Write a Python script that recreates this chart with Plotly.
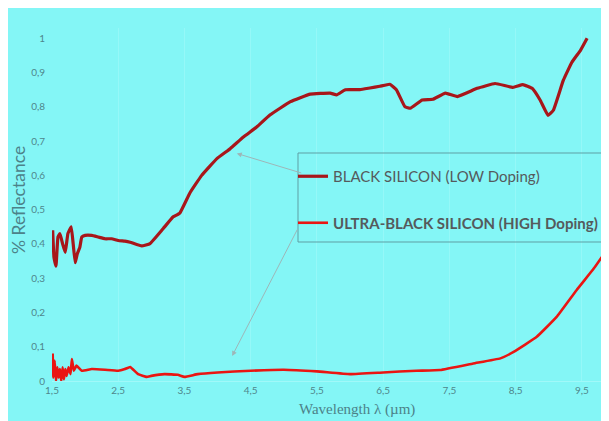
import plotly.graph_objects as go

# ---- data ----
black_x = [1.51, 1.53, 1.56, 1.59, 1.62, 1.66, 1.70, 1.74, 1.79, 1.82, 1.85, 1.88, 1.92, 1.95,
           2.0, 2.1, 2.2, 2.3, 2.4, 2.5, 2.6, 2.68, 2.855, 2.98, 3.18, 3.33, 3.43, 3.58, 3.76,
           3.99, 4.19, 4.39, 4.59, 4.79, 5.1, 5.4, 5.7, 5.8, 5.93, 6.15, 6.3, 6.45,
           6.6, 6.7, 6.83, 6.91, 7.09, 7.25, 7.44, 7.62, 7.92, 8.19, 8.46, 8.61, 8.75, 8.87,
           8.99, 9.07, 9.22, 9.35, 9.48, 9.58]
black_y = [0.44, 0.36, 0.335, 0.42, 0.43, 0.40, 0.375, 0.43, 0.45, 0.40, 0.345, 0.37, 0.39, 0.42,
           0.425, 0.425, 0.42, 0.415, 0.415, 0.41, 0.408, 0.405, 0.394, 0.401, 0.445, 0.479, 0.49, 0.548, 0.60,
           0.649, 0.678, 0.712, 0.741, 0.776, 0.815, 0.837, 0.84, 0.835, 0.85, 0.85, 0.855, 0.86,
           0.866, 0.85, 0.80, 0.796, 0.82, 0.822, 0.84, 0.83, 0.854, 0.868, 0.857, 0.865, 0.854, 0.82,
           0.775, 0.79, 0.877, 0.93, 0.965, 1.0]

ultra_x = [1.51, 1.52, 1.54, 1.56, 1.58, 1.60, 1.62, 1.64, 1.66, 1.68, 1.70, 1.72, 1.75, 1.78,
           1.80, 1.83, 1.87, 1.95, 2.1, 2.3, 2.5, 2.6, 2.68, 2.8, 2.93, 3.0, 3.2, 3.4, 3.5,
           3.7, 4.0, 4.5, 5.0, 5.5, 6.0, 6.5, 7.0, 7.36, 7.86, 8.27, 8.47, 8.82, 9.12,
           9.42, 9.68, 9.85]
ultra_y = [0.08, 0.01, 0.06, 0.0, 0.04, 0.01, 0.035, 0.0, 0.04, 0.005, 0.035, 0.015, 0.04, 0.02,
           0.064, 0.03, 0.045, 0.03, 0.035, 0.033, 0.03, 0.035, 0.041, 0.02, 0.012, 0.015, 0.02, 0.018, 0.012,
           0.02, 0.025, 0.03, 0.033, 0.028, 0.02, 0.025, 0.03, 0.032, 0.051, 0.066, 0.085, 0.129, 0.187,
           0.265, 0.328, 0.375]

x_ticks = [1.5, 2.5, 3.5, 4.5, 5.5, 6.5, 7.5, 8.5, 9.5]
y_ticks = [0, 0.1, 0.2, 0.3, 0.4, 0.5, 0.6, 0.7, 0.8, 0.9, 1]

BG = "#84F6F6"
TICK = "#4F868C"

fig = go.Figure()
fig.add_trace(go.Scatter(x=black_x, y=black_y, mode="lines",
                         name="BLACK SILICON (LOW Doping)", legendgroup="a",
                         line=dict(color="#A8161A", width=3.2, shape="spline", smoothing=0.3)))
fig.add_trace(go.Scatter(x=ultra_x, y=ultra_y, mode="lines",
                         name="<b>ULTRA-BLACK SILICON (HIGH Doping)</b>", legendgroup="b",
                         line=dict(color="#EA1512", width=2.6, shape="spline", smoothing=0.3)))

OFF = 8  # page body margin
W, H = 609 - OFF, 421 - OFF
L, R, T, B = 52 - OFF, 4, 28 - OFF, 421 - 381
pw, ph = W - L - R, H - T - B


def px(x):  # page pixel x -> paper
    return (x - OFF - L) / pw


def py(y):  # page pixel y -> paper
    return (H - B - (y - OFF)) / ph


fig.update_layout(
    width=W, height=H,
    margin=dict(l=L, r=R, t=T, b=B),
    paper_bgcolor=BG,
    plot_bgcolor="rgba(0,0,0,0)",
    separators=", ",
    font=dict(family="Lato, Open Sans, sans-serif", color=TICK, size=10),
    showlegend=True,
    legend=dict(x=px(293), y=py(160), xanchor="left", yanchor="top",
                bgcolor="rgba(0,0,0,0)", borderwidth=0,
                traceorder="grouped", tracegroupgap=24,
                font=dict(size=15, color="#555A5C", family="Lato, Open Sans, sans-serif")),
    xaxis=dict(range=[1.5, 9.85], tickvals=x_ticks, showgrid=True, gridcolor="#95F8F8",
               gridwidth=1, zeroline=False, showline=True, linecolor="#A0F9F9",
               ticks="", tickfont=dict(size=10, color=TICK)),
    yaxis=dict(range=[0, 1.03], tickvals=y_ticks, showgrid=False, zeroline=False,
               ticks="", tickfont=dict(size=10, color=TICK), ticklabelstandoff=6),
    shapes=[
        dict(type="rect", xref="paper", yref="paper", x0=px(298), x1=px(606), y0=py(242), y1=py(153),
             fillcolor="rgba(0,0,0,0)", line=dict(width=1, color="#5E9FA4"), layer="above"),
    ],
    annotations=[
        dict(xref="paper", yref="paper", x=px(357), y=py(409), text="Wavelength λ (µm)",
             showarrow=False, xanchor="center", yanchor="middle",
             font=dict(family="Liberation Serif, DejaVu Serif, serif", size=15, color="#4C8289")),
        dict(xref="paper", yref="paper", x=px(18), y=py(200), text="% Reflectance",
             showarrow=False, textangle=-90, xanchor="center", yanchor="middle",
             font=dict(family="Lato, Open Sans, sans-serif", size=17.5, color="#4C8289")),
        dict(x=4.29, y=0.664, text="", showarrow=True, ax=66, ay=20, arrowhead=2,
             arrowsize=1, arrowwidth=1, arrowcolor="#9DB6B8", standoff=0),
        dict(x=4.22, y=0.073, text="", showarrow=True, ax=66, ay=-128, arrowhead=2,
             arrowsize=1, arrowwidth=1, arrowcolor="#9DB6B8", standoff=0),
    ],
)

fig.write_html("out.html")
